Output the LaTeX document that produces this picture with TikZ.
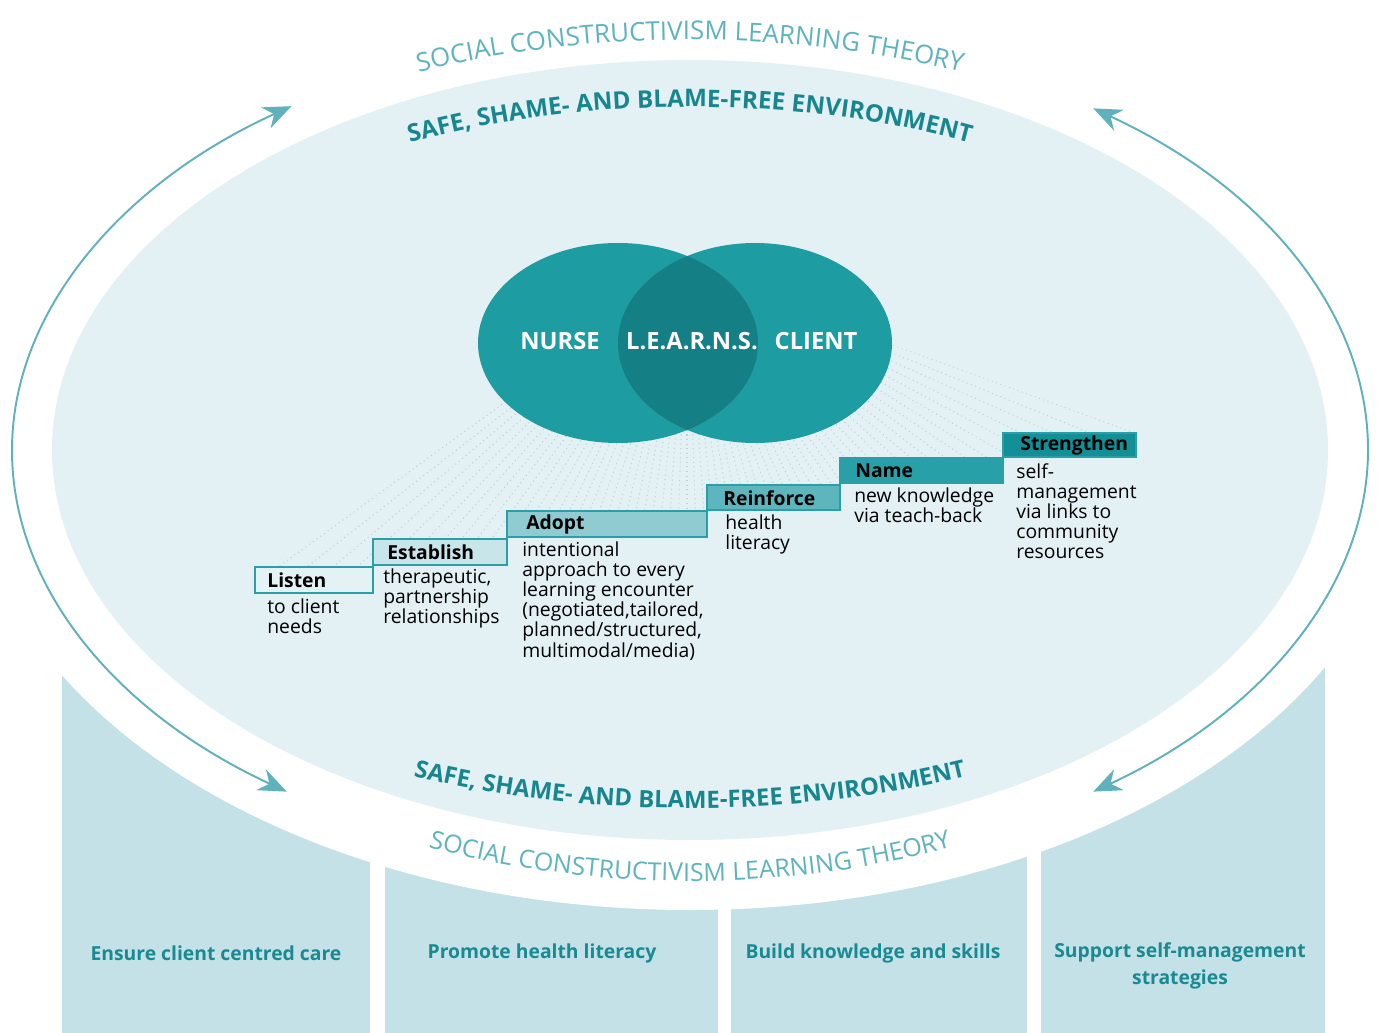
\documentclass[tikz,border=0pt]{standalone}
\usepackage{fontspec}
\setmainfont{Open Sans}
\usetikzlibrary{arrows.meta,decorations.text}

\definecolor{innerbg}{HTML}{E3F1F5}
\definecolor{pillarbg}{HTML}{C3E1E6}
\definecolor{pillartext}{HTML}{1A8A92}
\definecolor{arrowteal}{HTML}{5FB1BB}
\definecolor{theorytext}{HTML}{5EB4BE}
\definecolor{safetext}{HTML}{17868F}
\definecolor{venn}{HTML}{1D9CA2}
\definecolor{lens}{HTML}{157F86}
\definecolor{raygrey}{HTML}{BFD0D6}
\definecolor{stepline}{HTML}{2B9FA7}
\definecolor{stepA}{HTML}{E4F2F5}
\definecolor{stepB}{HTML}{C8E5E9}
\definecolor{stepC}{HTML}{8FCBD1}
\definecolor{stepD}{HTML}{5DB5BD}
\definecolor{stepE}{HTML}{27A0A8}
\definecolor{stepF}{HTML}{128F97}

\tikzset{
  stepbox/.style={draw=stepline, line width=1.4pt},
  steplabel/.style={anchor=west, inner sep=0pt, font=\fontsize{11}{12}\selectfont\bfseries},
  stepdesc/.style={anchor=north west, inner sep=0pt, align=left, font=\fontsize{11}{11.5}\selectfont},
  vennlabel/.style={inner sep=0pt, text=white, font=\fontsize{13.5}{15}\selectfont\bfseries},
  pillar/.style={align=center, text=pillartext, font=\fontsize{11}{15}\selectfont\bfseries},
  cyclearrow/.style={draw=arrowteal, line width=1.1pt,
    {Stealth[length=16pt,width=13pt]}-{Stealth[length=16pt,width=13pt]}},
  theory/.style={decorate, decoration={text along path, text align=center,
    text={|\color{theorytext}\fontsize{#1}{18}\selectfont|SOCIAL CONSTRUCTIVISM LEARNING THEORY}}},
  safe/.style={decorate, decoration={text along path, text align=center,
    text={|\color{safetext}\fontsize{#1}{18}\selectfont\bfseries|SAFE{,} SHAME- AND BLAME-FREE ENVIRONMENT}}},
}

\begin{document}
\begin{tikzpicture}[x=0.02cm,y=-0.02cm]
  \useasboundingbox (0,0) rectangle (1379,1033);
  \coordinate (centre) at (690,450);

  % four pillars underneath
  \fill[pillarbg] (62,600) rectangle (370,1033);
  \fill[pillarbg] (385,600) rectangle (718,1033);
  \fill[pillarbg] (731,600) rectangle (1027,1033);
  \fill[pillarbg] (1041,600) rectangle (1325,1033);

  % white ring and inner environment
  \fill[white] (centre) ellipse[x radius=720, y radius=460];
  \fill[innerbg] (centre) ellipse[x radius=638, y radius=390];

  % cycle arrows
  \draw[cyclearrow] (centre) ++(126.5:678 and 425) arc[start angle=126.5, end angle=234, x radius=678, y radius=425];
  \draw[cyclearrow] (centre) ++(-53.5:678 and 425) arc[start angle=-53.5, end angle=53.5, x radius=678, y radius=425];

  % curved captions
  \path[theory=14.7] (centre) ++(-160:700 and 410) arc[start angle=-160, end angle=-20, x radius=700, y radius=410];
  \path[safe=13.8] (centre) ++(-160:630 and 343) arc[start angle=-160, end angle=-20, x radius=630, y radius=343];
  \path[safe=13.6] (centre) ++(160:670 and 358) arc[start angle=160, end angle=20, x radius=670, y radius=358];
  \path[theory=14.2] (centre) ++(160:674 and 431) arc[start angle=160, end angle=20, x radius=674, y radius=431];

  % dotted fan from the venn down to the steps
  \coordinate (apex) at (687,270);
  \begin{scope}
    \clip (apex) -- (255,567) -- (373,567) -- (373,539) -- (507,539) -- (507,511)
      -- (707,511) -- (707,485) -- (840,485) -- (840,458) -- (1003,458)
      -- (1003,433) -- (1136,433) -- cycle;
    \foreach \a in {20,22,...,146}
      \draw[raygrey, dotted, line width=0.6pt] (apex) -- ++(\a:700);
  \end{scope}

  % venn
  \fill[venn] (618,343) ellipse[x radius=140, y radius=100];
  \fill[venn] (755,343) ellipse[x radius=137, y radius=100];
  \begin{scope}
    \clip (618,343) ellipse[x radius=140, y radius=100];
    \fill[lens] (755,343) ellipse[x radius=137, y radius=100];
  \end{scope}
  \node[vennlabel] (nurse) at (560,341) {NURSE};
  \node[vennlabel] (learns) at (692,341) {L.E.A.R.N.S.};
  \node[vennlabel] (client) at (816,341) {CLIENT};

  % steps
  \draw[stepbox, fill=stepA] (255,567) rectangle (373,593);
  \draw[stepbox, fill=stepB] (373,539) rectangle (507,565);
  \draw[stepbox, fill=stepC] (507,511) rectangle (707,537);
  \draw[stepbox, fill=stepD] (707,485) rectangle (840,510);
  \draw[stepbox, fill=stepE] (840,458) rectangle (1003,483);
  \draw[stepbox, fill=stepF] (1003,433) rectangle (1136,457);
  %
  \node[steplabel] (listen) at (267,580) {Listen};
  \node[steplabel] (establish) at (387,552) {Establish};
  \node[steplabel] (adopt) at (526,524) {Adopt};
  \node[steplabel] (reinforce) at (723,498) {Reinforce};
  \node[steplabel] (name) at (855,471) {Name};
  \node[steplabel] (strengthen) at (1020,445) {Strengthen};
  %
  \node[stepdesc] (listend) at (267,598) {to client\\needs};
  \node[stepdesc] (establishd) at (383,568) {therapeutic,\\partnership\\relationships};
  \node[stepdesc] (adoptd) at (522,541) {intentional\\approach to every\\learning encounter\\(negotiated,tailored,\\planned/structured,\\multimodal/media)};
  \node[stepdesc] (reinforced) at (725,514) {health\\literacy};
  \node[stepdesc] (named) at (854,487) {new knowledge\\via teach-back};
  \node[stepdesc] (strengthend) at (1016,463) {self-\\management\\via links to\\community\\resources};

  % pillar captions
  \node[pillar] (care) at (216,953) {Ensure client centred care};
  \node[pillar] (literacy) at (542,953) {Promote health literacy};
  \node[pillar] (skills) at (873,953) {Build knowledge and skills};
  \node[pillar] (selfmgmt) at (1180,966) {Support self-management\\strategies};
\end{tikzpicture}
\end{document}
